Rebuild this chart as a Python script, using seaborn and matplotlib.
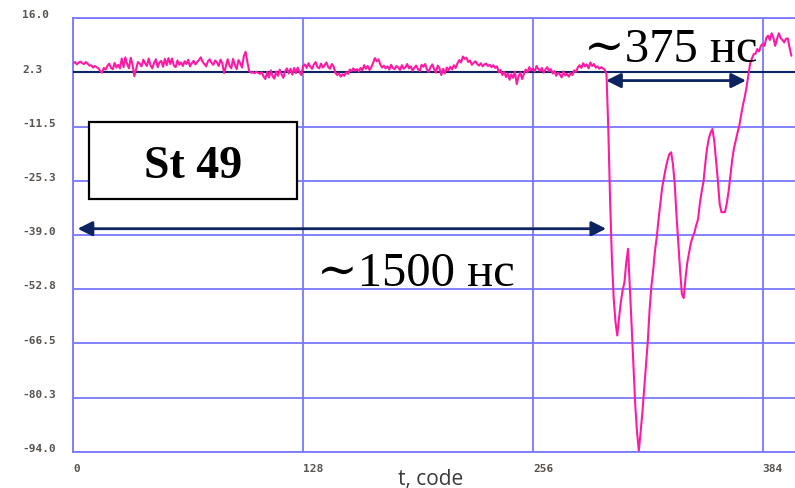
import numpy as np
import pandas as pd
import matplotlib
matplotlib.use("Agg")
import matplotlib.pyplot as plt
import matplotlib.transforms as mtransforms
from matplotlib.patches import Rectangle
import seaborn as sns

# ---- signal: amplitude per time code -------------------------------------
baseline = [
    4.6, 4.9, 4.3, 4.8, 5.0, 4.6, 4.4, 4.9, 4.5, 4.0,
    4.1, 3.5, 3.9, 3.6, 3.3, 2.6, 2.2, 3.4, 3.0, 3.9,
    4.5, 3.4, 3.1, 4.7, 3.5, 4.2, 3.3, 5.8, 3.6, 6.1,
    4.4, 3.3, 6.0, 4.2, 1.3, 3.1, 4.9, 4.5, 3.8, 5.5,
    4.6, 3.9, 5.8, 4.1, 3.3, 4.7, 5.6, 3.6, 4.8, 5.2,
    3.7, 5.7, 4.1, 5.9, 4.4, 5.8, 4.0, 3.6, 5.3, 4.2,
    4.8, 3.9, 5.1, 4.4, 5.5, 3.8, 4.6, 5.2, 4.3, 4.9,
    5.4, 6.1, 5.0, 4.4, 3.8, 5.1, 5.6, 4.7, 4.2, 5.3,
    4.8, 3.9, 5.5, 4.6, 2.1, 3.9, 5.6, 4.0, 3.3, 5.7,
    4.2, 3.1, 5.4, 4.6, 3.5, 6.4, 7.5, 4.8, 2.6, 2.2,
    2.3, 2.1, 2.4, 2.2, 1.9, 2.3, 1.2, 0.6, 2.4, 1.0,
    2.8, 1.3, 0.7, 2.5, 1.4, 3.0, 1.8, 0.9, 2.6, 3.3,
    2.0, 3.2, 1.7, 3.4, 2.1, 3.5, 2.3, 1.6, 3.8, 4.3,
    3.4, 4.6, 3.7, 3.2, 4.3, 4.9, 3.6, 3.3, 4.5, 3.5,
    4.1, 4.8, 3.6, 3.2, 4.4, 3.8, 2.2, 1.6, 2.0, 1.2,
    1.8, 1.4, 2.3, 1.9, 3.0, 2.6, 3.3, 2.7, 3.1, 2.5,
    3.4, 2.8, 4.1, 3.2, 3.9, 2.9, 3.6, 4.7, 5.9, 5.1,
    5.6, 4.3, 3.5, 4.0, 3.3, 3.8, 3.0, 4.2, 3.4, 3.1,
    3.9, 3.5, 2.9, 4.1, 3.2, 3.6, 4.4, 3.3, 3.8, 2.7,
    3.5, 4.0, 3.1, 2.6, 4.2, 3.7, 4.4, 3.0, 2.4, 3.6,
    4.3, 3.1, 2.2, 4.0, 3.3, 1.6, 3.2, 2.0, 3.5, 2.8,
    3.7, 3.0, 4.1, 3.4, 4.6, 5.4, 4.8, 6.3, 5.7, 6.0,
    4.9, 5.3, 4.2, 4.7, 5.1, 4.4, 4.0, 4.6, 3.8, 4.3,
    4.5, 3.9, 4.2, 3.6, 4.1, 3.4, 3.8, 2.3, 2.9, 1.6,
    2.4, 1.1, 2.0, 0.4, 1.8, 0.9, 2.5, -0.7, 1.3, 2.2,
    0.6, 1.9, 3.0, 2.3, 3.6, 2.8, 3.2, 2.5, 3.9, 3.1,
    2.7, 3.4, 2.2, 3.0, 3.6, 2.6, 3.1, 2.0, 2.6, 1.4,
    2.2, 1.8, 1.0, 2.5, 1.5, 1.9, 1.2, 2.1, 1.6, 2.8,
    2.4, 3.5, 4.1, 3.4, 4.6, 3.8, 4.3, 3.3, 4.8, 3.9,
    4.4, 3.5, 3.8, 3.2, 3.6, 3.3, 3.0,
]
pulse = [
    1.8, -12.0, -30.0, -45.0, -55.0, -61.0, -64.5, -60.0, -56.0, -53.0,
    -51.0, -46.0, -42.5, -52.0, -62.0, -72.0, -82.0, -89.0, -93.7, -89.0,
    -84.0, -78.0, -72.0, -66.0, -58.0, -52.0, -48.0, -43.0, -39.5, -35.0,
    -31.0, -27.0, -24.5, -22.0, -20.0, -18.5, -18.0, -21.0, -26.0, -34.0,
    -41.0, -48.0, -54.0, -55.0, -50.0, -46.0, -43.5, -41.0, -39.5, -38.3,
    -36.5, -35.0, -31.0, -28.0, -25.5, -21.0, -17.0, -14.5, -13.0, -12.1,
    -15.0, -20.0, -25.0, -31.0, -33.2, -33.2, -33.2, -31.0, -28.0, -24.0,
    -20.0, -17.0, -15.0, -13.0, -11.2, -8.5, -6.0, -4.0, -1.5, 1.5,
    4.5, 5.8, 6.9, 7.0, 8.2, 7.6, 9.0, 9.5, 9.0, 11.0,
    11.6, 10.5, 12.2, 11.0, 9.0, 10.8, 12.2, 11.0, 10.5, 9.9,
    10.8, 10.9, 8.5, 6.5,
]
amplitude = baseline + pulse
t_code = list(range(len(amplitude)))

# ---- axis ticks --------------------------------------------------------------
x_ticks = [0, 128, 256, 384]
y_ticks = [16.0, 2.25, -11.5, -25.25, -39.0, -52.75, -66.5, -80.25, -94.0]
y_tick_labels = ["16.0", "2.3", "-11.5", "-25.3", "-39.0", "-52.8", "-66.5", "-80.3", "-94.0"]

# ---- annotations ------------------------------------------------------------
level = 2.3
station_label = "St 49"
delay_label = "\u223c1500 нс"
width_label = "\u223c375 нс"
delay_span = (2.4, 296.8)
width_span = (296.8, 374.7)

GRID = "#7878ff"
TRACE = "#ff1aa3"
NAVY = "#0c2461"
TICK_TEXT = "#58534e"
SERIF = ["Liberation Serif", "DejaVu Serif"]

sns.set_style("white")
plt.rcParams["font.family"] = ["DejaVu Sans"]

fig = plt.figure(figsize=(7.95, 4.89), dpi=100)
ax = fig.add_axes([0.0922, 0.0742, 0.9078, 0.8863])

df = pd.DataFrame({"t, code": t_code, "amp": amplitude})
sns.lineplot(data=df, x="t, code", y="amp", ax=ax, color=TRACE, lw=1.5, zorder=4)

ax.set_xlim(0, 402)
ax.set_ylim(-94.0, 16.0)
ax.set_xticks(x_ticks)
ax.set_yticks(y_ticks)
ax.set_yticklabels(y_tick_labels)
ax.grid(True, color=GRID, lw=1.3)
ax.set_axisbelow(True)
for side in ("left", "bottom", "top"):
    ax.spines[side].set_visible(True)
    ax.spines[side].set_color(GRID)
    ax.spines[side].set_linewidth(1.3)
ax.spines["right"].set_visible(False)
ax.tick_params(axis="both", direction="out", length=7, width=1.3, color=GRID,
               labelsize=8, labelcolor=TICK_TEXT)
# y labels are left-aligned in a column near the figure edge
ax.tick_params(axis="y", pad=30)
ax.tick_params(axis="x", pad=1)
lift = mtransforms.ScaledTranslation(0, 3.5 / 72, fig.dpi_scale_trans)
for lbl in ax.get_yticklabels():
    lbl.set_family(["DejaVu Sans Mono"])
    lbl.set_fontweight("bold")
    lbl.set_horizontalalignment("left")
    lbl.set_transform(lbl.get_transform() + lift)
for lbl in ax.get_xticklabels():
    lbl.set_family(["DejaVu Sans Mono"])
    lbl.set_fontweight("bold")
    lbl.set_horizontalalignment("left")

ax.set_ylabel("")
ax.set_xlabel("")
fig.text(431 / 795, 1 - 485 / 489, "t, code", ha="center", va="baseline",
         fontsize=15, color="#3a3a3a", family=["Open Sans", "DejaVu Sans"])

# reference level
ax.axhline(level, color=NAVY, lw=1.5, zorder=3)

# station box
ax.add_patch(Rectangle((8.7, -29.8), 115.8, 19.5, facecolor="white", edgecolor="black",
                       lw=1.6, zorder=5))
ax.text(66.7, -24.3, station_label, ha="center", va="baseline", fontsize=33,
        fontweight="bold", color="black", family=SERIF, zorder=6)

# time spans
arrow_kw = dict(arrowstyle="<|-|>", color=NAVY, lw=2.0, mutation_scale=22,
                shrinkA=0, shrinkB=0)
ax.annotate("", xy=(delay_span[0], -37.4), xytext=(delay_span[1], -37.4),
            arrowprops=arrow_kw, zorder=6)
ax.annotate("", xy=(width_span[0], 0.2), xytext=(width_span[1], 0.2),
            arrowprops=arrow_kw, zorder=6)
ax.text(190.6, -51.7, delay_label, ha="center", va="baseline", fontsize=35,
        color="black", family=SERIF, zorder=6)
ax.text(332.6, 5.2, width_label, ha="center", va="baseline", fontsize=35,
        color="black", family=SERIF, zorder=6)

fig.savefig("out.png", dpi=100)
